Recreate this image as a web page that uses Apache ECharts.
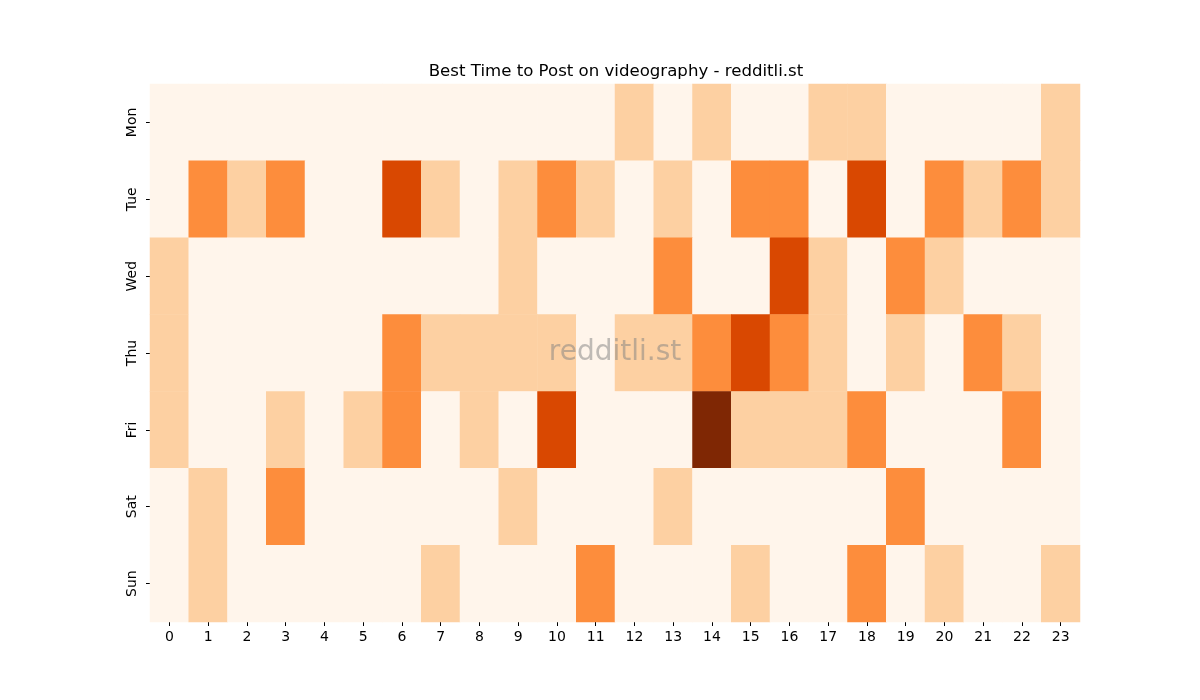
<!DOCTYPE html>
<html>
<head>
<meta charset="utf-8">
<title>Best Time to Post on videography</title>
<script src="https://cdn.jsdelivr.net/npm/echarts@6/dist/echarts.min.js"></script>
<style>
  html, body { margin: 0; padding: 0; background: #ffffff; }
  #chart { width: 1200px; height: 700px; }
</style>
</head>
<body>
<div id="chart"></div>
<script>
// hours on x, weekdays on y
const hours = Array.from({ length: 24 }, (_, i) => String(i));
const days = ['Mon', 'Tue', 'Wed', 'Thu', 'Fri', 'Sat', 'Sun'];

// activity level per day, one value per hour (0 = low ... 4 = high)
const mon = [0,0,0,0,0,0,0,0,0,0,0,0,1,0,1,0,0,1,1,0,0,0,0,1];
const tue = [0,2,1,2,0,0,3,1,0,1,2,1,0,1,0,2,2,0,3,0,2,1,2,1];
const wed = [1,0,0,0,0,0,0,0,0,1,0,0,0,2,0,0,3,1,0,2,1,0,0,0];
const thu = [1,0,0,0,0,0,2,1,1,1,1,0,1,1,2,3,2,1,0,1,0,2,1,0];
const fri = [1,0,0,1,0,1,2,0,1,0,3,0,0,0,4,1,1,1,2,0,0,0,2,0];
const sat = [0,1,0,2,0,0,0,0,0,1,0,0,0,1,0,0,0,0,0,2,0,0,0,0];
const sun = [0,1,0,0,0,0,0,1,0,0,0,2,0,0,0,1,0,0,2,0,1,0,0,1];

// matplotlib "Oranges" steps
const levelColors = ['#fff5eb', '#fdd0a2', '#fd8d3c', '#d94801', '#7f2704'];

const rows = [mon, tue, wed, thu, fri, sat, sun];
const cells = [];
rows.forEach((row, d) => {
  row.forEach((v, h) => cells.push([h, d, v]));
});

const chart = echarts.init(document.getElementById('chart'));

const FONT = 'DejaVu Sans';

chart.setOption({
  backgroundColor: '#ffffff',
  animation: false,
  title: {
    text: 'Best Time to Post on videography - redditli.st',
    left: 611,
    textAlign: 'center',
    top: 58,
    textStyle: { fontFamily: FONT, fontSize: 16.6, fontWeight: 'normal', color: '#000000' }
  },
  grid: { left: 150, right: 120, top: 84, bottom: 78 },
  xAxis: {
    type: 'category',
    data: hours,
    axisLine: { show: false },
    axisTick: { show: true, alignWithLabel: true, length: 4, lineStyle: { color: '#000000' } },
    axisLabel: { fontFamily: FONT, fontSize: 14, color: '#000000', margin: 8 },
    splitLine: { show: false }
  },
  yAxis: {
    type: 'category',
    data: days,
    inverse: true,
    axisLine: { show: false },
    axisTick: { show: true, alignWithLabel: true, length: 4, lineStyle: { color: '#000000' } },
    axisLabel: { fontFamily: FONT, fontSize: 14, color: '#000000', rotate: 90, margin: 11 },
    splitLine: { show: false }
  },
  visualMap: {
    type: 'piecewise',
    show: false,
    dimension: 2,
    pieces: levelColors.map((c, i) => ({ value: i, color: c }))
  },
  series: [{
    type: 'heatmap',
    data: cells,
    itemStyle: { borderWidth: 0 },
    emphasis: { disabled: true }
  }],
  graphic: [{
    type: 'text',
    x: 615,
    y: 353,
    z: 100,
    style: {
      text: 'redditli.st',
      font: '28px "DejaVu Sans"',
      fill: 'rgba(128,128,128,0.5)',
      textAlign: 'center',
      textVerticalAlign: 'middle'
    }
  }]
});
</script>
</body>
</html>
